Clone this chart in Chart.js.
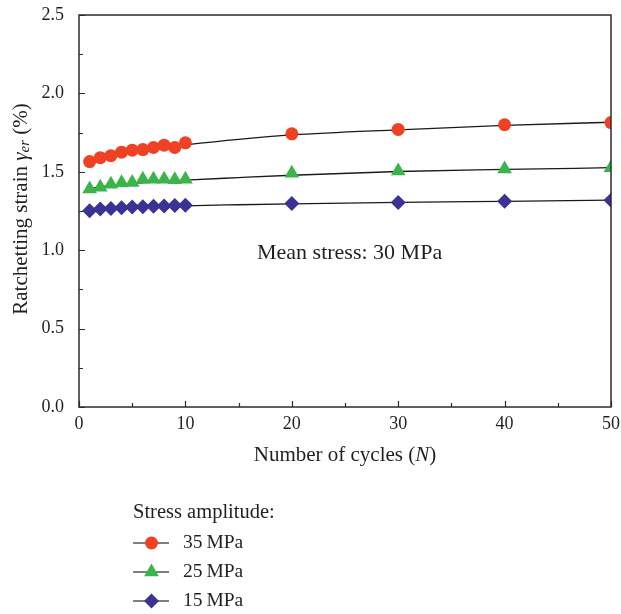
<!DOCTYPE html>
<html>
<head>
<meta charset="utf-8">
<script src="https://cdn.jsdelivr.net/npm/chart.js@4.4.1/dist/chart.umd.min.js"></script>
<style>
html,body{margin:0;padding:0;background:#fff;}
#wrap{width:621px;height:614px;position:relative;}
</style>
</head>
<body>
<div id="wrap"><canvas id="c" width="621" height="614"></canvas></div>
<script>
// ---- data ----
const cycles = [1,2,3,4,5,6,7,8,9,10,20,30,40,50];
const s35 = [1.565,1.59,1.603,1.625,1.638,1.642,1.655,1.67,1.655,1.685,1.742,1.77,1.8,1.814];
const s25 = [1.39,1.402,1.42,1.43,1.432,1.452,1.452,1.452,1.45,1.452,1.49,1.505,1.518,1.526];
const s15 = [1.252,1.262,1.266,1.27,1.275,1.277,1.28,1.282,1.285,1.287,1.298,1.304,1.312,1.318];
const fitCycles = [1,2,5,10,15,20,30,40,50];
const fit35 = [1.565,1.59,1.632,1.672,1.707,1.735,1.768,1.796,1.816];
const fit25 = [1.39,1.405,1.425,1.447,1.463,1.478,1.502,1.515,1.526];
const fit15 = [1.255,1.262,1.272,1.283,1.29,1.296,1.305,1.312,1.319];
const xTicks = [0,10,20,30,40,50];
const yTicks = [0.0,0.5,1.0,1.5,2.0,2.5];
const seriesNames = ['35 MPa','25 MPa','15 MPa'];

const SERIF = '"Liberation Serif","DejaVu Serif",serif';
const TXT = '#231f20';
const RED = '#ef4123', GREEN = '#3ab54a', BLUE = '#3b3294';

const pts = (xs, ys) => xs.map((x,i)=>({x, y: ys[i]}));

const fitStyle = {showLine:true, pointRadius:0, borderColor:'#1a1a1a', borderWidth:1.3, cubicInterpolationMode:'monotone', order:2};

function drawShape(ctx, shape, x, y, color){
  ctx.save();
  ctx.fillStyle = color;
  ctx.beginPath();
  if(shape==='circle'){ ctx.arc(x,y,6.5,0,Math.PI*2); }
  else if(shape==='triangle'){
    const r=8.5;
    ctx.moveTo(x, y-r);
    ctx.lineTo(x+Math.sin(2*Math.PI/3)*r, y-Math.cos(2*Math.PI/3)*r);
    ctx.lineTo(x+Math.sin(4*Math.PI/3)*r, y-Math.cos(4*Math.PI/3)*r);
    ctx.closePath();
  } else {
    const r=7.5;
    ctx.moveTo(x,y-r); ctx.lineTo(x+r,y); ctx.lineTo(x,y+r); ctx.lineTo(x-r,y); ctx.closePath();
  }
  ctx.fill();
  ctx.restore();
}

const decor = {
  id:'decor',
  afterDraw(chart){
    const {ctx, chartArea:a, scales:{x, y}} = chart;
    ctx.save();
    // frame
    ctx.strokeStyle = '#2b2b2b';
    ctx.lineWidth = 1.5;
    ctx.strokeRect(a.left, a.top, a.right-a.left, a.bottom-a.top);
    // inward ticks
    ctx.lineWidth = 1.2;
    ctx.beginPath();
    for(let v=0; v<=2.5001; v+=0.25){
      const py = Math.round(y.getPixelForValue(v))+0.5;
      const len = (Math.abs(v*2-Math.round(v*2))<1e-6)?6:4;
      ctx.moveTo(a.left, py); ctx.lineTo(a.left+len, py);
    }
    for(let v=0; v<=50; v+=5){
      const px = Math.round(x.getPixelForValue(v))+0.5;
      const len = (v%10===0)?6:4;
      ctx.moveTo(px, a.bottom); ctx.lineTo(px, a.bottom-len);
    }
    ctx.stroke();

    ctx.fillStyle = TXT;
    ctx.textBaseline = 'middle';
    // x title
    const F = '21px '+SERIF, FI = 'italic 21px '+SERIF;
    const t1 = 'Number of cycles (', t2 = 'N', t3 = ')';
    ctx.font = F; const w1 = ctx.measureText(t1).width, w3 = ctx.measureText(t3).width;
    ctx.font = FI; const w2 = ctx.measureText(t2).width;
    let sx = 345 - (w1+w2+w3)/2;
    ctx.textAlign='left';
    ctx.font = F; ctx.fillText(t1, sx, 455);
    ctx.font = FI; ctx.fillText(t2, sx+w1, 455);
    ctx.font = F; ctx.fillText(t3, sx+w1+w2, 455);

    // y title (rotated)
    ctx.save();
    ctx.translate(21, 209);
    ctx.rotate(-Math.PI/2);
    const parts = [
      {t:'Ratchetting strain ', f:F, dy:0},
      {t:'\u03b3', f:FI, dy:0},
      {t:'er', f:'italic 15px '+SERIF, dy:4},
      {t:' (%)', f:F, dy:0}
    ];
    let tw = 0;
    parts.forEach(p=>{ctx.font=p.f; p.w=ctx.measureText(p.t).width; tw+=p.w;});
    let cx = -tw/2;
    parts.forEach(p=>{ctx.font=p.f; ctx.fillText(p.t, cx, p.dy); cx+=p.w;});
    ctx.restore();

    // annotation
    ctx.font = '22px '+SERIF;
    ctx.textAlign='left';
    ctx.fillText('Mean stress: 30 MPa', 257, 253);

    // legend
    ctx.font = '20.5px '+SERIF;
    ctx.fillText('Stress amplitude:', 133, 513);
    ctx.font = '19.5px '+SERIF;
    const ly = [543,572,601];
    const shapes = ['circle','triangle','diamond'];
    const cols = [RED, GREEN, BLUE];
    for(let i=0;i<3;i++){
      ctx.strokeStyle = '#555';
      ctx.lineWidth = 1.5;
      ctx.beginPath(); ctx.moveTo(133, ly[i]); ctx.lineTo(169, ly[i]); ctx.stroke();
      drawShape(ctx, shapes[i], 151.5, ly[i], cols[i]);
      ctx.fillStyle = TXT;
      ctx.fillText(seriesNames[i].replace(' ', '\u2009'), 183, ly[i]);
    }
    ctx.restore();
  }
};

new Chart(document.getElementById('c'), {
  type:'scatter',
  data:{
    datasets:[
      Object.assign({label:'fit35', data: pts(fitCycles, fit35)}, fitStyle),
      Object.assign({label:'fit25', data: pts(fitCycles, fit25)}, fitStyle),
      Object.assign({label:'fit15', data: pts(fitCycles, fit15)}, fitStyle),
      {label:seriesNames[0], data: pts(cycles, s35), pointStyle:'circle', pointRadius:6.5, backgroundColor:RED, borderColor:RED, pointBorderWidth:0, order:1, clip:0},
      {label:seriesNames[1], data: pts(cycles, s25), pointStyle:'triangle', pointRadius:8.5, backgroundColor:GREEN, borderColor:GREEN, pointBorderWidth:0, order:1, clip:0},
      {label:seriesNames[2], data: pts(cycles, s15), pointStyle:'rectRot', pointRadius:7.5, backgroundColor:BLUE, borderColor:BLUE, pointBorderWidth:0, order:1, clip:0}
    ]
  },
  options:{
    responsive:false,
    animation:false,
    devicePixelRatio:1,
    layout:{padding:{left:0, top:15, right:10, bottom:147}, autoPadding:false},
    plugins:{legend:{display:false}, tooltip:{enabled:false}},
    scales:{
      x:{
        type:'linear', min:0, max:50,
        afterBuildTicks(s){ s.ticks = xTicks.map(v=>({value:v})); },
        afterFit(s){ s.height = 60; s.paddingLeft = 0; s.paddingRight = 0; s.paddingTop = 0; s.paddingBottom = 0; },
        grid:{display:false, drawTicks:false},
        border:{display:false},
        ticks:{padding:6, color:TXT, font:{family:SERIF, size:18}, maxRotation:0, callback:v=>String(v)}
      },
      y:{
        type:'linear', min:0, max:2.5,
        afterBuildTicks(s){ s.ticks = yTicks.map(v=>({value:v})); },
        afterFit(s){ s.width = 79; s.paddingLeft = 0; s.paddingRight = 0; s.paddingTop = 0; s.paddingBottom = 0; },
        grid:{display:false, drawTicks:false},
        border:{display:false},
        ticks:{padding:15, color:TXT, font:{family:SERIF, size:18}, callback:v=>Number(v).toFixed(1)}
      }
    }
  },
  plugins:[decor]
});
</script>
</body>
</html>
